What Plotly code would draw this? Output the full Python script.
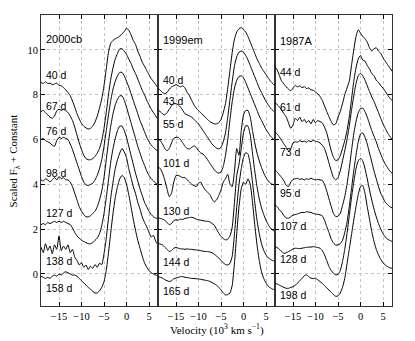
import plotly.graph_objects as go

# velocity grid (10^3 km/s), shared by every spectrum
VELOCITY = [
    -19.0, -18.5, -18.0, -17.5, -17.0, -16.5, -16.0, -15.5, -15.0, -14.5,
    -14.0, -13.5, -13.0, -12.5, -12.0, -11.5, -11.0, -10.5, -10.0, -9.5,
    -9.0, -8.5, -8.0, -7.5, -7.0, -6.5, -6.0, -5.5, -5.0, -4.5,
    -4.0, -3.5, -3.0, -2.5, -2.0, -1.5, -1.0, -0.5, 0.0, 0.5,
    1.0, 1.5, 2.0, 2.5, 3.0, 3.5, 4.0, 4.5, 5.0, 5.5,
    6.0, 6.5, 7.0,
]

# ---- SN 2000cb ----
SN2000CB_DAYS = ["40 d", "67 d", "76 d", "98 d", "127 d", "138 d", "158 d"]
SN2000CB_40 = [
    8.55, 8.50, 8.58, 8.50, 8.52, 8.45, 8.48, 8.52, 8.42, 8.40,
    8.32, 8.22, 8.10, 7.95, 7.72, 7.45, 7.15, 6.92, 6.72, 6.60,
    6.52, 6.47, 6.50, 6.60, 6.78, 7.05, 7.40, 7.82, 8.40, 9.15,
    9.90, 10.30, 10.42, 10.50, 10.55, 10.62, 10.72, 10.82, 10.97, 10.88,
    10.68, 10.42, 10.25, 9.95, 9.72, 9.45, 9.28, 9.08, 8.90, 8.72,
    8.58, 8.45, 8.30,
]
SN2000CB_67 = [
    7.25, 7.30, 7.20, 7.10, 7.00, 6.95, 7.05, 7.28, 7.35, 7.30,
    7.35, 7.30, 7.20, 7.05, 6.85, 6.55, 6.20, 5.85, 5.55, 5.30,
    5.15, 5.10, 5.10, 5.15, 5.25, 5.40, 5.60, 5.95, 6.50, 7.20,
    8.00, 8.70, 9.20, 9.60, 9.85, 10.05, 10.05, 9.95, 9.80, 9.60,
    9.40, 9.15, 8.95, 8.70, 8.45, 8.20, 8.00, 7.75, 7.55, 7.35,
    7.20, 7.05, 6.90,
]
SN2000CB_76 = [
    6.00, 6.05, 5.95, 5.90, 5.85, 5.75, 5.70, 5.95, 6.10, 6.05,
    6.10, 6.05, 6.00, 5.80, 5.55, 5.25, 4.95, 4.65, 4.35, 4.10,
    3.98, 3.95, 4.00, 4.05, 4.20, 4.40, 4.70, 5.10, 5.70, 6.40,
    7.10, 7.75, 8.25, 8.60, 8.85, 9.00, 9.00, 8.85, 8.60, 8.35,
    8.05, 7.75, 7.45, 7.15, 6.85, 6.60, 6.35, 6.10, 5.90, 5.75,
    5.65, 5.55, 5.50,
]
SN2000CB_98 = [
    4.20, 4.15, 4.25, 4.20, 4.10, 4.20, 4.30, 4.20, 4.35, 4.25,
    4.30, 4.20, 4.20, 4.10, 3.90, 3.60, 3.30, 3.00, 2.80, 2.65,
    2.55, 2.55, 2.60, 2.70, 2.80, 3.00, 3.30, 3.70, 4.30, 5.10,
    5.90, 6.60, 7.15, 7.55, 7.80, 7.95, 7.95, 7.75, 7.45, 7.10,
    6.75, 6.40, 6.05, 5.70, 5.40, 5.10, 4.85, 4.60, 4.40, 4.25,
    4.15, 4.05, 4.00,
]
SN2000CB_127 = [
    2.20, 2.25, 2.20, 2.30, 2.25, 2.30, 2.35, 2.30, 2.35, 2.30,
    2.35, 2.30, 2.25, 2.20, 2.05, 1.85, 1.70, 1.60, 1.50, 1.45,
    1.40, 1.35, 1.35, 1.40, 1.50, 1.60, 1.80, 2.15, 2.70, 3.40,
    4.20, 5.00, 5.60, 6.05, 6.40, 6.60, 6.60, 6.40, 6.10, 5.70,
    5.30, 4.90, 4.50, 4.15, 3.80, 3.50, 3.20, 3.00, 2.80, 2.65,
    2.55, 2.50, 2.45,
]
SN2000CB_138 = [
    1.20, 0.95, 1.35, 1.05, 1.25, 0.90, 1.30, 1.10, 1.70, 1.05,
    1.25, 1.10, 1.30, 0.95, 1.10, 0.75, 0.60, 0.40, 0.50, 0.30,
    0.40, 0.20, 0.35, 0.25, 0.42, 0.30, 0.48, 0.42, 0.90, 1.60,
    2.50, 3.40, 4.10, 4.70, 5.10, 5.40, 5.60, 5.45, 5.20, 4.70,
    4.30, 3.90, 3.60, 3.20, 2.90, 2.55, 2.30, 2.10, 1.85, 1.65,
    1.72, 1.45, 1.30,
]
SN2000CB_158 = [
    -0.10, -0.15, -0.20, -0.15, -0.20, -0.10, -0.05, -0.10, 0.00, -0.05,
    0.05, 0.10, 0.05, 0.00, -0.05, -0.05, -0.10, -0.20, -0.30, -0.40,
    -0.50, -0.60, -0.68, -0.78, -0.85, -0.85, -0.75, -0.60, -0.35, 0.15,
    0.95, 1.85, 2.70, 3.40, 3.90, 4.25, 4.40, 4.30, 4.00, 3.55,
    3.00, 2.45, 1.95, 1.50, 1.15, 0.80, 0.50, 0.30, 0.15, 0.05,
    0.00, -0.05, -0.10,
]

# ---- SN 1999em ----
SN1999EM_DAYS = ["40 d", "43 d", "55 d", "101 d", "130 d", "144 d", "165 d"]
SN1999EM_40 = [
    8.30, 8.20, 8.10, 8.05, 8.10, 8.25, 8.35, 8.40, 8.45, 8.40,
    8.35, 8.40, 8.30, 8.10, 7.95, 7.75, 7.55, 7.40, 7.30, 7.20,
    7.10, 7.00, 6.90, 6.80, 6.75, 6.70, 6.70, 6.75, 6.90, 7.20,
    7.60, 8.30, 9.10, 9.90, 10.50, 10.80, 10.95, 11.00, 10.90, 10.80,
    10.60, 10.35, 10.10, 9.85, 9.60, 9.40, 9.20, 9.05, 8.90, 8.75,
    8.60, 8.50, 8.40,
]
SN1999EM_43 = [
    7.30, 7.25, 7.15, 7.10, 7.20, 7.35, 7.50, 7.60, 7.60, 7.55,
    7.45, 7.30, 7.15, 7.10, 7.05, 7.00, 6.90, 6.80, 6.70, 6.55,
    6.40, 6.25, 6.10, 5.95, 5.80, 5.70, 5.62, 5.58, 5.65, 5.90,
    6.30, 7.00, 7.80, 8.60, 9.30, 9.70, 9.90, 9.95, 9.90, 9.75,
    9.55, 9.30, 9.05, 8.80, 8.55, 8.30, 8.10, 7.90, 7.70, 7.55,
    7.40, 7.30, 7.20,
]
SN1999EM_55 = [
    6.05, 5.95, 5.80, 5.60, 5.50, 5.60, 5.85, 6.05, 6.10, 6.10,
    6.00, 5.85, 5.70, 5.60, 5.58, 5.65, 5.72, 5.65, 5.50, 5.40,
    5.35, 5.25, 5.10, 4.95, 4.80, 4.65, 4.55, 4.50, 4.55, 4.80,
    5.30, 6.00, 6.90, 7.70, 8.30, 8.65, 8.82, 8.85, 8.75, 8.55,
    8.30, 8.05, 7.80, 7.55, 7.30, 7.05, 6.85, 6.65, 6.45, 6.30,
    6.15, 6.05, 5.95,
]
SN1999EM_101 = [
    4.80, 4.70, 4.50, 4.20, 3.80, 3.45, 3.60, 4.10, 4.40, 4.40,
    4.35, 4.30, 4.30, 4.20, 4.10, 4.00, 3.95, 3.90, 4.05, 4.10,
    3.90, 3.75, 3.65, 3.55, 3.35, 3.22, 3.30, 3.50, 3.75, 4.10,
    4.25, 4.45, 4.00, 3.90, 4.60, 5.60, 5.30, 6.40, 7.10, 7.30,
    7.30, 7.00, 6.40, 5.85, 5.40, 5.05, 4.75, 4.50, 4.30, 4.15,
    4.05, 4.00, 3.95,
]
SN1999EM_130 = [
    2.50, 2.48, 2.45, 2.40, 2.30, 2.20, 2.25, 2.38, 2.42, 2.40,
    2.45, 2.43, 2.48, 2.50, 2.52, 2.53, 2.50, 2.45, 2.42, 2.40,
    2.38, 2.36, 2.35, 2.33, 2.25, 2.18, 2.00, 1.82, 1.68, 1.58,
    1.52, 1.55, 1.70, 2.10, 3.20, 4.40, 4.90, 5.60, 6.30, 6.62,
    6.60, 6.20, 5.40, 4.60, 3.90, 3.35, 2.95, 2.65, 2.40, 2.20,
    2.05, 1.95, 1.90,
]
SN1999EM_144 = [
    1.37, 1.33, 1.30, 1.20, 1.10, 1.00, 1.05, 1.15, 1.18, 1.15,
    1.12, 1.12, 1.10, 1.12, 1.10, 1.10, 1.08, 1.07, 1.06, 1.04,
    1.02, 1.00, 1.00, 0.98, 0.95, 0.88, 0.80, 0.72, 0.60, 0.50,
    0.42, 0.40, 0.48, 0.80, 1.80, 3.00, 4.00, 4.70, 5.20, 5.42,
    5.35, 4.90, 4.10, 3.20, 2.40, 1.80, 1.35, 1.05, 0.85, 0.72,
    0.65, 0.60, 0.55,
]
SN1999EM_165 = [
    -0.12, -0.15, -0.18, -0.25, -0.30, -0.34, -0.30, -0.22, -0.18, -0.15,
    -0.12, -0.12, -0.15, -0.16, -0.18, -0.20, -0.20, -0.22, -0.22, -0.24,
    -0.26, -0.28, -0.30, -0.33, -0.38, -0.44, -0.50, -0.60, -0.71, -0.85,
    -0.94, -0.92, -0.85, -0.50, 0.50, 1.80, 3.00, 3.80, 4.10, 4.00,
    4.25, 4.00, 3.20, 2.20, 1.30, 0.60, 0.10, -0.20, -0.40, -0.55,
    -0.62, -0.68, -0.72,
]

# ---- SN 1987A ----
SN1987A_DAYS = ["44 d", "61 d", "73 d", "95 d", "107 d", "128 d", "198 d"]
SN1987A_44 = [
    9.25, 9.10, 8.85, 8.60, 8.48, 8.35, 8.25, 8.18, 8.30, 8.42,
    8.35, 8.40, 8.32, 8.36, 8.28, 8.30, 8.22, 8.20, 8.12, 8.05,
    7.92, 7.75, 7.50, 7.25, 7.02, 6.80, 6.65, 6.70, 7.00, 7.25,
    7.60, 8.00, 8.30, 8.60, 9.30, 10.00, 10.60, 10.90, 10.75, 10.60,
    10.50, 10.35, 10.10, 9.95, 10.05, 10.10, 9.95, 9.85, 9.65, 9.50,
    9.35, 9.20, 9.05,
]
SN1987A_61 = [
    7.66, 7.55, 7.45, 7.30, 7.15, 7.00, 6.75, 6.50, 6.65, 6.95,
    6.85, 7.00, 6.80, 6.90, 6.75, 6.85, 6.70, 6.90, 6.75, 6.85,
    6.80, 6.75, 6.55, 6.30, 5.90, 5.50, 5.20, 5.06, 5.10, 5.28,
    5.60, 5.95, 6.40, 7.00, 7.80, 8.60, 9.20, 9.60, 9.75, 9.55,
    9.50, 9.30, 9.15, 8.95, 8.85, 8.65, 8.55, 8.40, 8.30, 8.15,
    8.00, 7.85, 7.75,
]
SN1987A_73 = [
    6.32, 6.25, 6.10, 5.95, 5.80, 5.65, 5.50, 5.60, 5.85, 5.90,
    5.88, 5.95, 5.90, 5.93, 5.88, 5.95, 5.90, 5.97, 5.92, 5.90,
    5.85, 5.75, 5.60, 5.30, 4.95, 4.60, 4.30, 4.20, 4.30, 4.60,
    5.05, 5.50, 6.00, 6.60, 7.30, 7.95, 8.50, 8.85, 8.96, 8.85,
    8.65, 8.40, 8.15, 7.90, 7.70, 7.45, 7.20, 6.95, 6.70, 6.50,
    6.30, 6.15, 6.00,
]
SN1987A_95 = [
    4.64, 4.55, 4.42, 4.30, 4.15, 3.95, 3.90, 4.10, 4.22, 4.25,
    4.27, 4.22, 4.25, 4.20, 4.25, 4.22, 4.28, 4.22, 4.20, 4.22,
    4.20, 4.18, 4.00, 3.70, 3.35, 3.00, 2.70, 2.56, 2.58, 2.70,
    3.05, 3.45, 4.00, 4.70, 5.50, 6.25, 6.80, 7.20, 7.38, 7.40,
    7.25, 7.00, 6.70, 6.40, 6.15, 5.90, 5.60, 5.35, 5.10, 4.90,
    4.75, 4.60, 4.50,
]
SN1987A_107 = [
    3.08, 3.00, 2.86, 2.75, 2.60, 2.50, 2.49, 2.55, 2.63, 2.65,
    2.68, 2.72, 2.75, 2.74, 2.78, 2.76, 2.75, 2.70, 2.68, 2.66,
    2.64, 2.60, 2.40, 2.11, 1.85, 1.55, 1.38, 1.29, 1.30, 1.35,
    1.50, 1.85, 2.30, 3.00, 3.80, 4.60, 5.30, 5.90, 6.25, 6.30,
    6.10, 5.80, 5.40, 5.00, 4.60, 4.25, 3.90, 3.60, 3.40, 3.20,
    3.10, 3.00, 2.95,
]
SN1987A_128 = [
    1.22, 1.18, 1.10, 1.00, 0.92, 0.95, 1.00, 1.05, 1.12, 1.15,
    1.14, 1.13, 1.15, 1.17, 1.19, 1.20, 1.20, 1.22, 1.20, 1.18,
    1.15, 1.05, 0.85, 0.60, 0.33, 0.15, 0.03, -0.04, -0.02, 0.15,
    0.55, 1.10, 1.80, 2.60, 3.40, 4.10, 4.70, 5.05, 5.16, 5.05,
    4.70, 4.25, 3.75, 3.30, 2.90, 2.55, 2.25, 2.00, 1.80, 1.65,
    1.55, 1.50, 1.45,
]
SN1987A_198 = [
    -0.42, -0.45, -0.50, -0.55, -0.60, -0.64, -0.64, -0.60, -0.57, -0.50,
    -0.42, -0.30, -0.20, -0.08, -0.04, -0.12, -0.19, -0.20, -0.19, -0.26,
    -0.34, -0.42, -0.52, -0.62, -0.72, -0.82, -0.92, -1.00, -0.98, -0.85,
    -0.60, -0.20, 0.45, 1.10, 1.75, 2.41, 3.00, 3.55, 3.90, 3.95,
    3.60, 3.00, 2.45, 1.90, 1.45, 1.10, 0.85, 0.65, 0.50, 0.40,
    0.33, 0.28, 0.25,
]

PANELS = [
    ("2000cb", SN2000CB_DAYS, [SN2000CB_40, SN2000CB_67, SN2000CB_76, SN2000CB_98,
                               SN2000CB_127, SN2000CB_138, SN2000CB_158]),
    ("1999em", SN1999EM_DAYS, [SN1999EM_40, SN1999EM_43, SN1999EM_55, SN1999EM_101,
                               SN1999EM_130, SN1999EM_144, SN1999EM_165]),
    ("1987A", SN1987A_DAYS, [SN1987A_44, SN1987A_61, SN1987A_73, SN1987A_95,
                             SN1987A_107, SN1987A_128, SN1987A_198]),
]

# where the text labels sit (name first, then one per spectrum)
LABEL_Y = [
    [10.5, 8.88, 7.5, 6.37, 4.52, 2.71, 0.6, -0.64],
    [10.45, 8.66, 7.7, 6.7, 4.94, 2.83, 0.55, -0.74],
    [10.42, 9.0, 7.44, 5.43, 3.6, 2.14, 0.65, -0.94],
]
LABEL_X = -18.3

SERIF = "Liberation Serif, Times New Roman, serif"
SANS = "Liberation Sans, Arial, sans-serif"

fig = go.Figure()
annotations = []
for i, (name, days, spectra) in enumerate(PANELS):
    xa = "x" if i == 0 else f"x{i + 1}"
    ya = "y" if i == 0 else f"y{i + 1}"
    for spec in spectra:
        fig.add_trace(go.Scatter(
            x=VELOCITY, y=spec, xaxis=xa, yaxis=ya, mode="lines",
            line=dict(color="black", width=1, shape="spline", smoothing=0.5),
            showlegend=False, hoverinfo="skip",
        ))
    for j, (text, y) in enumerate(zip([name] + days, LABEL_Y[i])):
        annotations.append(dict(
            x=LABEL_X, y=y, xref=xa, yref=ya, text=text, showarrow=False,
            xanchor="left", yanchor="middle",
            font=dict(family=SANS, size=11 if j == 0 else 10.5, color="black"),
        ))

annotations.append(dict(
    x=0.5, y=-0.08, xref="paper", yref="paper", showarrow=False,
    text="Velocity (10<sup>3</sup> km s<sup>\u22121</sup>)",
    xanchor="center", yanchor="middle", font=dict(family=SERIF, size=11, color="black"),
))
annotations.append(dict(
    x=-0.077, y=0.5, xref="paper", yref="paper", showarrow=False, textangle=-90,
    text="Scaled F<sub>\u03bb</sub> + Constant",
    xanchor="center", yanchor="middle", font=dict(family=SERIF, size=11, color="black"),
))

axis_style = dict(
    ticks="inside", ticklen=4, tickcolor="black", mirror="ticks",
    showline=True, linecolor="#333333", linewidth=1,
    showgrid=True, gridcolor="#c4c4c4", griddash="dot", gridwidth=1,
    zeroline=False, tickfont=dict(family=SERIF, size=10.5, color="black"),
)
domains = [[0, 1 / 3], [1 / 3, 2 / 3], [2 / 3, 1]]
layout_axes = {}
for i in range(3):
    sx = "" if i == 0 else str(i + 1)
    layout_axes[f"xaxis{sx}"] = dict(
        axis_style, domain=domains[i], range=[-19, 7], tickvals=[-15, -10, -5, 0, 5],
        anchor=f"y{sx}",
    )
    layout_axes[f"yaxis{sx}"] = dict(
        axis_style, range=[-1.43, 11.56], tickvals=[0, 2, 4, 6, 8, 10],
        anchor=f"x{sx}", showticklabels=(i == 0),
    )

# the page body adds an 8px offset, so the margins are trimmed to match
fig.update_layout(
    width=415, height=341,
    margin=dict(l=33, r=31, t=7, b=43),
    paper_bgcolor="white", plot_bgcolor="white",
    annotations=annotations,
    **layout_axes,
)

fig.write_html("out.html")
